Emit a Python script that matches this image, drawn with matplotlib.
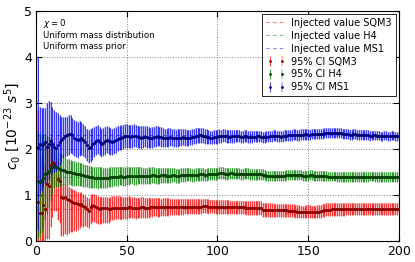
import matplotlib
matplotlib.use("Agg")
import matplotlib.pyplot as plt
from matplotlib.legend_handler import HandlerTuple

# number of events
n_events = list(range(1, 201))

# MS1 (blue)
ms1_center = [
    2.05, 2.12, 2.08, 2.10, 2.15, 2.05, 2.12, 2.18, 2.12, 2.05, 2.02, 2.08, 2.15, 2.20, 2.25, 2.28, 2.30, 2.32, 2.33, 2.30,
    2.25, 2.22, 2.20, 2.22, 2.24, 2.20, 2.15, 2.08, 2.03, 2.05, 2.10, 2.14, 2.18, 2.20, 2.16, 2.12, 2.14, 2.18, 2.20, 2.18,
    2.17, 2.16, 2.18, 2.20, 2.22, 2.24, 2.25, 2.27, 2.28, 2.29, 2.28, 2.27, 2.28, 2.29, 2.28, 2.27, 2.26, 2.25, 2.26, 2.27,
    2.26, 2.25, 2.24, 2.25, 2.26, 2.27, 2.28, 2.27, 2.26, 2.25, 2.24, 2.24, 2.25, 2.26, 2.25, 2.24, 2.23, 2.24, 2.25, 2.25,
    2.26, 2.25, 2.24, 2.24, 2.25, 2.26, 2.27, 2.28, 2.29, 2.30, 2.30, 2.29, 2.28, 2.27, 2.26, 2.25, 2.25, 2.26, 2.27, 2.27,
    2.28, 2.28, 2.29, 2.29, 2.28, 2.27, 2.27, 2.28, 2.28, 2.29, 2.29, 2.28, 2.27, 2.27, 2.28, 2.28, 2.27, 2.26, 2.26, 2.27,
    2.27, 2.28, 2.28, 2.27, 2.26, 2.26, 2.27, 2.27, 2.28, 2.28, 2.29, 2.29, 2.28, 2.28, 2.27, 2.28, 2.29, 2.29, 2.30, 2.30,
    2.30, 2.31, 2.31, 2.30, 2.30, 2.31, 2.31, 2.32, 2.32, 2.31, 2.31, 2.32, 2.32, 2.33, 2.33, 2.32, 2.32, 2.33, 2.34, 2.34,
    2.34, 2.35, 2.35, 2.34, 2.34, 2.35, 2.35, 2.34, 2.33, 2.33, 2.32, 2.32, 2.31, 2.31, 2.32, 2.32, 2.31, 2.30, 2.30, 2.31,
    2.31, 2.30, 2.30, 2.29, 2.29, 2.30, 2.30, 2.29, 2.29, 2.28, 2.28, 2.29, 2.29, 2.28, 2.28, 2.29, 2.29, 2.28, 2.28, 2.28,
]
ms1_err_hi_early = [
    1.95, 0.80, 0.82, 0.80, 0.75, 0.95, 0.92, 0.85, 0.80, 0.80, 0.78, 0.70, 0.60, 0.50, 0.45, 0.42, 0.40, 0.42, 0.40, 0.38,
    0.38, 0.38, 0.39, 0.40, 0.35, 0.34, 0.34, 0.36, 0.38, 0.38, 0.36, 0.34, 0.33, 0.32, 0.32, 0.32, 0.31, 0.30, 0.30, 0.30,
]
ms1_err_lo_early = [
    1.80, 1.10, 1.00, 0.95, 0.90, 0.80, 0.80, 0.75, 0.65, 0.55, 0.50, 0.50, 0.50, 0.48, 0.45, 0.45, 0.45, 0.44, 0.42, 0.40,
    0.40, 0.40, 0.39, 0.38, 0.36, 0.35, 0.34, 0.34, 0.34, 0.33, 0.33, 0.32, 0.32, 0.31, 0.30, 0.30, 0.30, 0.30, 0.29, 0.29,
]
ms1_err_late = [
    0.29, 0.28, 0.28, 0.28, 0.27, 0.27, 0.27, 0.26, 0.26, 0.26, 0.25, 0.25, 0.25, 0.25, 0.24, 0.24, 0.24, 0.24, 0.23, 0.23,
    0.23, 0.23, 0.22, 0.22, 0.22, 0.22, 0.21, 0.21, 0.21, 0.21, 0.20, 0.20, 0.20, 0.20, 0.19, 0.19, 0.19, 0.19, 0.18, 0.18,
    0.18, 0.18, 0.18, 0.17, 0.17, 0.17, 0.17, 0.17, 0.16, 0.16, 0.16, 0.16, 0.16, 0.16, 0.15, 0.15, 0.15, 0.15, 0.15, 0.15,
    0.15, 0.14, 0.14, 0.14, 0.14, 0.14, 0.14, 0.14, 0.14, 0.13, 0.13, 0.13, 0.13, 0.13, 0.13, 0.13, 0.13, 0.13, 0.13, 0.12,
    0.12, 0.12, 0.12, 0.12, 0.12, 0.12, 0.12, 0.12, 0.12, 0.12, 0.12, 0.12, 0.12, 0.12, 0.12, 0.12, 0.12, 0.12, 0.12, 0.12,
    0.12, 0.12, 0.12, 0.12, 0.12, 0.12, 0.12, 0.12, 0.12, 0.12, 0.11, 0.11, 0.11, 0.11, 0.11, 0.11, 0.11, 0.11, 0.11, 0.11,
    0.11, 0.11, 0.11, 0.11, 0.11, 0.11, 0.11, 0.11, 0.11, 0.11, 0.11, 0.11, 0.11, 0.11, 0.11, 0.11, 0.11, 0.11, 0.11, 0.11,
    0.11, 0.11, 0.11, 0.11, 0.10, 0.10, 0.10, 0.10, 0.10, 0.10, 0.10, 0.10, 0.10, 0.10, 0.10, 0.10, 0.10, 0.10, 0.10, 0.10,
]

# H4 (green)
h4_center = [
    1.30, 1.28, 1.33, 1.38, 1.45, 1.48, 1.52, 1.58, 1.62, 1.66, 1.62, 1.58, 1.56, 1.55, 1.54, 1.52, 1.50, 1.50, 1.49, 1.48,
    1.47, 1.46, 1.46, 1.45, 1.44, 1.43, 1.42, 1.41, 1.40, 1.40, 1.39, 1.38, 1.38, 1.37, 1.38, 1.38, 1.37, 1.37, 1.38, 1.38,
    1.39, 1.39, 1.40, 1.40, 1.40, 1.41, 1.41, 1.40, 1.40, 1.41, 1.41, 1.42, 1.42, 1.41, 1.41, 1.42, 1.42, 1.42, 1.41, 1.41,
    1.41, 1.42, 1.42, 1.43, 1.43, 1.42, 1.42, 1.42, 1.43, 1.43, 1.43, 1.42, 1.42, 1.42, 1.43, 1.43, 1.42, 1.42, 1.42, 1.43,
    1.43, 1.43, 1.44, 1.44, 1.44, 1.43, 1.43, 1.44, 1.44, 1.45, 1.45, 1.45, 1.44, 1.44, 1.45, 1.45, 1.46, 1.46, 1.46, 1.46,
    1.47, 1.47, 1.47, 1.46, 1.46, 1.46, 1.47, 1.47, 1.46, 1.46, 1.46, 1.46, 1.45, 1.45, 1.46, 1.46, 1.46, 1.45, 1.45, 1.45,
    1.45, 1.45, 1.45, 1.45, 1.44, 1.44, 1.42, 1.42, 1.42, 1.42, 1.42, 1.42, 1.42, 1.42, 1.42, 1.42, 1.42, 1.43, 1.43, 1.43,
    1.43, 1.43, 1.43, 1.43, 1.43, 1.43, 1.42, 1.42, 1.42, 1.42, 1.43, 1.43, 1.42, 1.42, 1.42, 1.42, 1.42, 1.42, 1.41, 1.41,
    1.40, 1.40, 1.40, 1.40, 1.40, 1.39, 1.39, 1.39, 1.39, 1.39, 1.39, 1.39, 1.39, 1.39, 1.39, 1.39, 1.39, 1.39, 1.39, 1.39,
    1.39, 1.39, 1.39, 1.40, 1.40, 1.40, 1.39, 1.39, 1.39, 1.39, 1.39, 1.39, 1.39, 1.39, 1.39, 1.39, 1.39, 1.39, 1.39, 1.39,
]
h4_err_hi_early = [
    1.10, 1.05, 1.00, 0.95, 0.85, 0.80, 0.75, 0.65, 0.55, 0.45, 0.40, 0.38, 0.36, 0.34, 0.32, 0.30, 0.29, 0.28, 0.28, 0.27,
    0.27, 0.26, 0.26, 0.25, 0.25, 0.25, 0.24, 0.24, 0.24, 0.24, 0.23, 0.23, 0.23, 0.23, 0.22, 0.22, 0.22, 0.22, 0.21, 0.21,
]
h4_err_lo_early = [
    1.25, 1.20, 1.15, 1.10, 1.00, 0.90, 0.80, 0.70, 0.60, 0.50, 0.45, 0.40, 0.38, 0.35, 0.33, 0.31, 0.30, 0.29, 0.28, 0.28,
    0.27, 0.27, 0.26, 0.26, 0.25, 0.25, 0.25, 0.24, 0.24, 0.24, 0.24, 0.23, 0.23, 0.23, 0.23, 0.22, 0.22, 0.22, 0.22, 0.21,
]
h4_err_late = [
    0.21, 0.21, 0.21, 0.21, 0.20, 0.20, 0.20, 0.20, 0.20, 0.20, 0.19, 0.19, 0.19, 0.19, 0.19, 0.19, 0.18, 0.18, 0.18, 0.18,
    0.18, 0.18, 0.17, 0.17, 0.17, 0.17, 0.17, 0.17, 0.16, 0.16, 0.16, 0.16, 0.16, 0.16, 0.15, 0.15, 0.15, 0.15, 0.15, 0.15,
    0.15, 0.15, 0.14, 0.14, 0.14, 0.14, 0.14, 0.14, 0.14, 0.14, 0.14, 0.14, 0.13, 0.13, 0.13, 0.13, 0.13, 0.13, 0.13, 0.13,
    0.13, 0.13, 0.13, 0.13, 0.13, 0.12, 0.12, 0.12, 0.12, 0.12, 0.12, 0.12, 0.12, 0.12, 0.12, 0.12, 0.12, 0.12, 0.12, 0.12,
    0.12, 0.12, 0.12, 0.12, 0.12, 0.11, 0.11, 0.11, 0.11, 0.11, 0.11, 0.11, 0.11, 0.11, 0.11, 0.11, 0.11, 0.11, 0.11, 0.11,
    0.11, 0.11, 0.11, 0.11, 0.11, 0.11, 0.11, 0.11, 0.11, 0.11, 0.11, 0.11, 0.11, 0.11, 0.11, 0.11, 0.11, 0.11, 0.11, 0.11,
    0.10, 0.10, 0.10, 0.10, 0.10, 0.10, 0.10, 0.10, 0.10, 0.10, 0.10, 0.10, 0.10, 0.10, 0.10, 0.10, 0.10, 0.10, 0.10, 0.10,
    0.10, 0.10, 0.10, 0.10, 0.10, 0.10, 0.10, 0.10, 0.10, 0.10, 0.10, 0.10, 0.10, 0.10, 0.10, 0.10, 0.10, 0.10, 0.10, 0.10,
]

# SQM3 (red)
sqm3_center = [
    0.85, 0.62, 0.60, 0.78, 0.70, 1.25, 1.20, 1.65, 1.72, 1.70, 1.60, 1.35, 1.30, 0.95, 0.93, 0.95, 0.92, 0.90, 0.88, 0.85,
    0.83, 0.82, 0.80, 0.78, 0.80, 0.76, 0.74, 0.70, 0.66, 0.75, 0.78, 0.77, 0.74, 0.72, 0.70, 0.71, 0.72, 0.72, 0.71, 0.70,
    0.70, 0.71, 0.71, 0.72, 0.72, 0.72, 0.71, 0.71, 0.72, 0.72, 0.73, 0.73, 0.72, 0.72, 0.71, 0.72, 0.72, 0.73, 0.73, 0.72,
    0.72, 0.72, 0.73, 0.73, 0.74, 0.74, 0.73, 0.73, 0.73, 0.74, 0.74, 0.74, 0.74, 0.74, 0.74, 0.74, 0.74, 0.74, 0.74, 0.74,
    0.74, 0.75, 0.75, 0.75, 0.75, 0.75, 0.75, 0.75, 0.75, 0.75, 0.75, 0.76, 0.76, 0.76, 0.75, 0.75, 0.75, 0.75, 0.74, 0.74,
    0.74, 0.74, 0.74, 0.74, 0.74, 0.74, 0.73, 0.73, 0.73, 0.73, 0.73, 0.73, 0.73, 0.73, 0.73, 0.72, 0.72, 0.72, 0.72, 0.72,
    0.72, 0.72, 0.72, 0.72, 0.68, 0.67, 0.67, 0.67, 0.67, 0.67, 0.67, 0.67, 0.67, 0.67, 0.67, 0.67, 0.67, 0.67, 0.66, 0.66,
    0.66, 0.66, 0.65, 0.64, 0.64, 0.63, 0.63, 0.63, 0.64, 0.64, 0.64, 0.63, 0.63, 0.63, 0.64, 0.64, 0.65, 0.66, 0.67, 0.68,
    0.68, 0.68, 0.69, 0.69, 0.69, 0.69, 0.69, 0.69, 0.69, 0.69, 0.69, 0.69, 0.70, 0.70, 0.70, 0.70, 0.70, 0.70, 0.70, 0.70,
    0.70, 0.70, 0.70, 0.70, 0.70, 0.70, 0.70, 0.70, 0.70, 0.70, 0.70, 0.70, 0.70, 0.70, 0.70, 0.70, 0.70, 0.70, 0.70, 0.70,
]
sqm3_err_hi_early = [
    2.00, 1.40, 1.20, 1.10, 1.00, 0.90, 0.80, 0.60, 0.50, 0.45, 0.45, 0.45, 0.40, 0.30, 0.30, 0.30, 0.28, 0.28, 0.28, 0.28,
    0.28, 0.27, 0.27, 0.27, 0.27, 0.26, 0.26, 0.26, 0.27, 0.26, 0.25, 0.25, 0.25, 0.25, 0.25, 0.24, 0.24, 0.24, 0.24, 0.24,
]
sqm3_err_lo_early = [
    0.85, 0.62, 0.60, 0.78, 0.70, 1.20, 1.15, 1.35, 1.20, 1.05, 0.95, 0.90, 0.90, 0.85, 0.82, 0.80, 0.78, 0.72, 0.68, 0.65,
    0.62, 0.60, 0.55, 0.50, 0.48, 0.45, 0.42, 0.40, 0.38, 0.38, 0.37, 0.36, 0.35, 0.34, 0.34, 0.33, 0.33, 0.32, 0.32, 0.31,
]
sqm3_err_late = [
    0.26, 0.26, 0.26, 0.25, 0.25, 0.25, 0.25, 0.24, 0.24, 0.24, 0.24, 0.23, 0.23, 0.23, 0.23, 0.22, 0.22, 0.22, 0.22, 0.21,
    0.21, 0.21, 0.21, 0.20, 0.20, 0.20, 0.20, 0.20, 0.19, 0.19, 0.19, 0.19, 0.19, 0.18, 0.18, 0.18, 0.18, 0.18, 0.18, 0.17,
    0.17, 0.17, 0.17, 0.17, 0.17, 0.17, 0.16, 0.16, 0.16, 0.16, 0.16, 0.16, 0.16, 0.16, 0.16, 0.15, 0.15, 0.15, 0.15, 0.15,
    0.15, 0.15, 0.15, 0.15, 0.15, 0.15, 0.15, 0.15, 0.15, 0.15, 0.15, 0.15, 0.15, 0.15, 0.15, 0.15, 0.15, 0.15, 0.15, 0.15,
    0.15, 0.15, 0.15, 0.15, 0.15, 0.15, 0.15, 0.15, 0.15, 0.15, 0.14, 0.14, 0.14, 0.14, 0.14, 0.14, 0.14, 0.14, 0.14, 0.14,
    0.14, 0.14, 0.14, 0.14, 0.14, 0.14, 0.14, 0.14, 0.14, 0.14, 0.14, 0.14, 0.14, 0.14, 0.14, 0.14, 0.14, 0.14, 0.14, 0.14,
    0.14, 0.14, 0.14, 0.14, 0.14, 0.14, 0.14, 0.14, 0.14, 0.14, 0.13, 0.13, 0.13, 0.13, 0.13, 0.13, 0.13, 0.13, 0.13, 0.13,
    0.13, 0.13, 0.13, 0.13, 0.13, 0.13, 0.13, 0.13, 0.13, 0.13, 0.13, 0.13, 0.13, 0.13, 0.13, 0.13, 0.13, 0.13, 0.13, 0.13,
]

# injected values
inj_sqm3 = 0.70
inj_h4 = 1.40
inj_ms1 = 2.30

series = [
    ("SQM3", sqm3_center, sqm3_err_lo_early + sqm3_err_late, sqm3_err_hi_early + sqm3_err_late, inj_sqm3, "red", "#8b0000"),
    ("H4", h4_center, h4_err_lo_early + h4_err_late, h4_err_hi_early + h4_err_late, inj_h4, "green", "#004000"),
    ("MS1", ms1_center, ms1_err_lo_early + ms1_err_late, ms1_err_hi_early + ms1_err_late, inj_ms1, "blue", "#00007a"),
]

fig = plt.figure(figsize=(4.15, 2.62), dpi=100)
ax = fig.add_axes([0.087, 0.080, 0.874, 0.878])

inj_handles = []
ci_handles = []
for name, c, lo, hi, inj, col, dark in series:
    h = ax.axhline(inj, color=col, ls=(0, (3, 3)), lw=0.8, alpha=0.5, zorder=1)
    inj_handles.append(h)
    light = ax.errorbar(n_events, c, yerr=[lo, hi], fmt="o", ms=2.0, mfc=dark, mec=dark, mew=0,
                        ecolor=col, elinewidth=1.3, capsize=2.0, capthick=0.8, alpha=0.28, zorder=2)
    light[0].set_alpha(1)
    dk = ax.errorbar(n_events, c, yerr=[lo, hi], fmt="o", ms=2.0, mfc=dark, mec=dark, mew=0,
                     ecolor=col, elinewidth=0.5, capsize=1.2, capthick=0.5, zorder=3)
    ci_handles.append((dk, light))

ax.set_xlim(0, 200)
ax.set_ylim(0, 5)
ax.set_xticks([0, 50, 100, 150, 200])
ax.set_yticks([0, 1, 2, 3, 4, 5])
ax.tick_params(direction="in", top=True, right=True, labelsize=9, length=4, pad=3)
ax.grid(True, ls=":", color="0.5", lw=0.7)
ax.set_ylabel(r"$c_0\ [10^{-23}\ s^5]$", fontsize=10, labelpad=1)

ax.text(0.019, 0.975, r"$\chi=0$" + "\nUniform mass distribution\nUniform mass prior",
        transform=ax.transAxes, fontsize=6.2, va="top", ha="left", linespacing=1.2)

handles = inj_handles + ci_handles
labels = ["Injected value SQM3", "Injected value H4", "Injected value MS1",
          "95% CI SQM3", "95% CI H4", "95% CI MS1"]
leg = ax.legend(handles, labels, loc="upper right", fontsize=7, numpoints=1,
                handler_map={tuple: HandlerTuple(ndivide=None)},
                handlelength=2.0, handletextpad=0.6, labelspacing=0.3, borderpad=0.4,
                fancybox=False, framealpha=1, edgecolor="k", borderaxespad=0.3)
leg.get_frame().set_linewidth(0.6)

fig.savefig("out.png", dpi=100)
